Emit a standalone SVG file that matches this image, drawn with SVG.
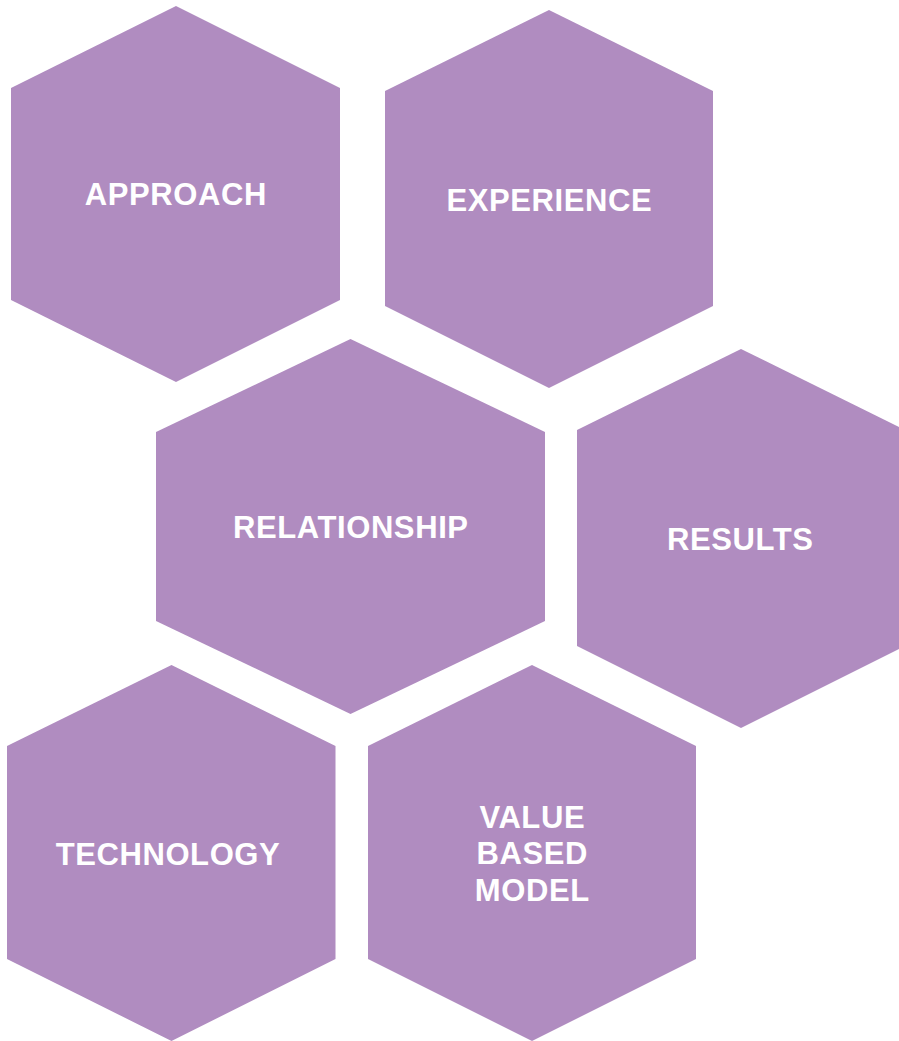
<svg xmlns="http://www.w3.org/2000/svg" width="899" height="1041" viewBox="0 0 899 1041">
<style>
.hex{fill:#B08CC0;}
.lbl{fill:#FFFFFF;font-family:"Liberation Sans",Arial,sans-serif;font-weight:bold;font-size:31px;letter-spacing:0.6px;text-anchor:middle;}
</style>
<rect width="899" height="1041" fill="#FFFFFF"/>
<g id="node-approach">
<polygon class="hex" points="176,6 340,88 340,300 176,382 11,300 11,88"/>
<text class="lbl" x="175.8" y="205">APPROACH</text>
</g>
<g id="node-experience">
<polygon class="hex" points="549,10 713,91 713,306 549,388 385,306 385,91"/>
<text class="lbl" x="549.3" y="211">EXPERIENCE</text>
</g>
<g id="node-relationship">
<polygon class="hex" points="350.5,339 545,432 545,621 350.5,714 156,621 156,432"/>
<text class="lbl" x="350.8" y="538">RELATIONSHIP</text>
</g>
<g id="node-results">
<polygon class="hex" points="741,349 905,430 905,646 741,728 577,646 577,430"/>
<text class="lbl" x="740.3" y="550">RESULTS</text>
</g>
<g id="node-technology">
<polygon class="hex" points="171.5,665 335.5,746 335.5,959 171.5,1041 7,959 7,746"/>
<text class="lbl" x="168" y="865">TECHNOLOGY</text>
</g>
<g id="node-value">
<polygon class="hex" points="532,665 696,746 696,959 532,1041 368,959 368,746"/>
<text class="lbl" x="532.3" y="828">VALUE</text>
<text class="lbl" x="532.3" y="864">BASED</text>
<text class="lbl" x="532.3" y="900.5">MODEL</text>
</g>
<g id="connectors"></g>
</svg>
